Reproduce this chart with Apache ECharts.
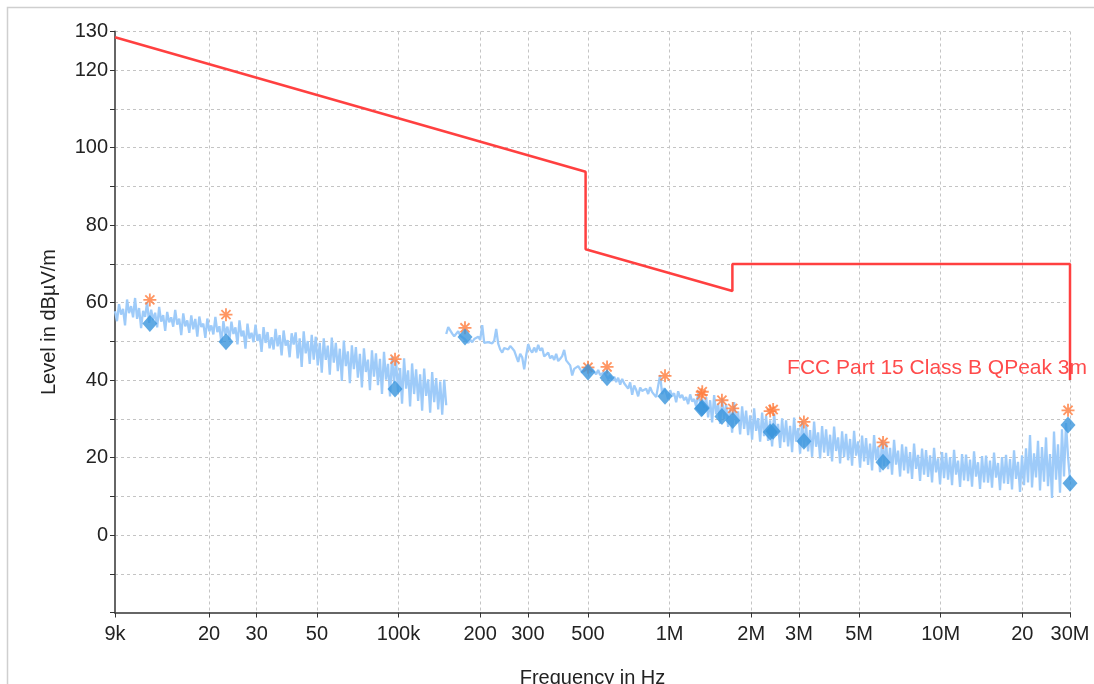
<!DOCTYPE html>
<html>
<head>
<meta charset="utf-8">
<script src="https://cdn.jsdelivr.net/npm/echarts@6/dist/echarts.min.js"></script>
<style>
  html, body { margin: 0; padding: 0; background: #fff; }
  #chart { width: 1094px; height: 684px; }
</style>
</head>
<body>
<div id="chart"></div>
<script>
// x axis ticks (Hz) and their printed labels
const freqTicks = [9e3, 2e4, 3e4, 5e4, 1e5, 2e5, 3e5, 5e5, 1e6, 2e6, 3e6, 5e6, 1e7, 2e7, 3e7]
const freqTickLabels = ['9k', '20', '30', '50', '100k', '200', '300', '500', '1M', '2M', '3M', '5M', '10M', '20', '30M']
// y labels that are printed (other 10 dB ticks stay blank)
const levelLabels = [130, 120, 100, 80, 60, 40, 20, 0]

// FCC Part 15 Class B QPeak 3m limit
const limitFreq = [9e3, 4.9e5, 4.9e5, 1.705e6, 1.705e6, 3e7, 3e7]
const limitLevel = [128.5, 93.8, 73.8, 63.0, 70.0, 70.0, 40.0]

// sweep 1 (loop): 9 kHz .. 150 kHz, log spaced points
const sweep1Start = 9e3
const sweep1Stop = 1.5e5
const sweep1Level = [
  57.8, 55.2, 59.6, 56.9, 58.4, 54.1, 60.8, 57.3, 59.1, 56.2,
  61.2, 55.8, 58.6, 53.4, 57.9, 56.3, 60.1, 54.8, 58.2, 55.5,
  57.4, 53.6, 58.9, 55.1, 56.8, 52.7, 57.6, 54.9, 56.2, 53.8,
  58.1, 54.3, 55.9, 51.6, 57.2, 53.9, 55.4, 52.2, 56.7, 53.1,
  55.8, 51.2, 56.4, 53.7, 54.6, 50.9, 55.9, 52.6, 54.1, 51.8,
  56.3, 52.4, 53.9, 49.6, 55.2, 51.7, 53.8, 50.4, 55.1, 51.9,
  53.6, 49.2, 55.4, 51.3, 52.8, 48.1, 54.6, 50.7, 52.2, 49.8,
  54.3, 50.1, 51.9, 47.3, 53.7, 49.6, 52.4, 48.2, 51.1, 47.9,
  53.2, 48.7, 51.6, 46.4, 52.8, 48.9, 50.3, 45.9, 52.1, 49.2,
  52.3, 45.6, 50.8, 43.4, 52.6, 46.9, 50.1, 44.2, 51.7, 45.3,
  51.2, 43.8, 49.6, 41.9, 50.8, 45.2, 48.9, 41.4, 51.0, 44.5,
  49.6, 42.3, 48.1, 39.8, 50.2, 43.6, 47.4, 39.2, 49.0, 42.8,
  48.5, 40.6, 46.8, 38.1, 48.2, 42.1, 45.3, 37.4, 47.7, 40.9,
  46.9, 38.7, 45.5, 36.4, 47.3, 40.1, 44.2, 35.8, 46.1, 39.2,
  45.2, 36.9, 43.1, 33.9, 45.6, 37.8, 42.5, 33.2, 44.3, 36.4,
  42.8, 34.6, 41.5, 32.1, 43.0, 35.9, 40.2, 31.6, 42.1, 34.3,
  40.5, 32.4, 39.6, 31.1, 40.1, 33.5
]

// sweep 2 (bicon): 150 kHz .. 30 MHz, log spaced points
const sweep2Start = 1.5e5
const sweep2Stop = 3e7
const sweep2Level = [
  51.9, 53.7, 53.2, 52.0, 51.3, 51.8, 52.6, 51.5, 51.0, 50.7,
  50.2, 49.6, 50.4, 49.8, 50.6, 50.1, 51.2, 50.4, 54.2, 49.6,
  50.1, 49.8, 50.3, 49.5, 50.2, 53.2, 49.4, 47.9, 47.1, 48.3,
  48.6, 47.9, 48.8, 48.2, 47.6, 47.9, 44.7, 46.8, 45.9, 42.8,
  46.4, 49.3, 47.8, 47.1, 48.4, 47.2, 49.1, 47.6, 48.3, 46.1,
  46.0, 47.1, 45.6, 46.3, 45.2, 46.8, 44.9, 45.5, 46.2, 47.8,
  45.1, 44.6, 43.8, 41.2, 42.9, 42.5, 43.6, 42.8, 41.9, 43.1,
  42.4, 43.5, 41.8, 42.9, 42.2, 41.5, 42.6, 41.3, 40.8, 42.1,
  41.6, 40.2, 41.3, 39.8, 40.9, 39.5, 40.6, 38.8, 40.3, 39.2,
  38.9, 37.8, 39.4, 36.2, 38.6, 37.5, 35.8, 38.1, 37.2, 36.9,
  37.8, 36.4, 38.2, 36.9, 37.3, 35.6, 38.5, 41.3, 36.4, 37.9,
  36.8, 35.1, 37.4, 35.9, 36.6, 34.3, 37.1, 35.4, 36.2, 34.8,
  35.6, 33.8, 36.3, 34.5, 35.1, 33.2, 36.7, 33.9, 35.2, 32.8,
  35.6, 30.4, 34.8, 29.1, 36.1, 31.2, 33.9, 28.7, 35.2, 30.0,
  33.8, 27.9, 32.6, 26.4, 34.3, 28.7, 31.9, 26.0, 33.2, 27.4,
  32.1, 25.8, 30.9, 24.6, 32.7, 26.9, 30.2, 24.1, 31.6, 25.5,
  30.8, 24.3, 29.6, 22.9, 31.4, 25.6, 28.7, 22.5, 30.1, 24.0,
  29.6, 22.9, 28.2, 21.4, 30.3, 24.1, 27.6, 21.0, 29.4, 22.6,
  28.4, 21.6, 27.1, 20.2, 29.3, 22.8, 26.5, 19.8, 28.1, 21.3,
  27.3, 20.4, 25.9, 19.0, 28.0, 21.7, 25.2, 18.5, 26.8, 20.1,
  26.1, 19.3, 24.8, 17.9, 26.9, 20.5, 24.2, 17.4, 25.7, 19.0,
  25.0, 18.1, 23.6, 16.7, 25.8, 19.3, 22.9, 16.2, 24.6, 17.8,
  23.9, 17.0, 22.5, 15.6, 24.6, 18.2, 21.8, 15.1, 23.4, 16.7,
  22.8, 15.9, 21.4, 14.5, 23.6, 17.1, 20.7, 14.0, 22.3, 15.6,
  21.9, 15.0, 20.6, 13.6, 22.5, 16.2, 19.8, 13.1, 21.4, 14.7,
  21.2, 14.3, 20.1, 12.9, 22.0, 15.6, 19.2, 12.4, 20.9, 14.1,
  20.8, 13.9, 19.5, 12.5, 21.6, 15.1, 18.8, 11.9, 20.4, 13.6,
  20.5, 13.5, 19.2, 12.2, 21.3, 14.8, 18.6, 11.6, 20.1, 13.3,
  20.7, 13.2, 19.6, 11.8, 21.9, 14.5, 18.9, 11.1, 20.6, 12.9,
  22.4, 13.6, 25.8, 12.3, 21.1, 14.9, 24.3, 11.5, 22.7, 13.8,
  25.2, 12.6, 20.9, 9.6, 26.7, 14.3, 23.4, 10.9, 27.3, 15.1,
  28.9, 20.3, 14.2
]

// peak detector finals (asterisks)
const peakFreq = [1.21e4, 2.31e4, 9.71e4, 1.759e5, 5.0e5, 5.88e5, 9.62e5, 1.31e6, 1.32e6, 1.56e6, 1.71e6, 2.35e6, 2.41e6, 3.13e6, 6.13e6, 2.95e7]
const peakLevel = [60.7, 56.9, 45.4, 53.5, 43.3, 43.4, 41.1, 36.2, 37.0, 34.8, 32.7, 32.0, 32.4, 29.2, 23.9, 32.2]

// quasi-peak finals (diamonds)
const qpFreq = [1.21e4, 2.31e4, 9.71e4, 1.759e5, 5.0e5, 5.88e5, 9.62e5, 1.31e6, 1.32e6, 1.56e6, 1.71e6, 2.35e6, 2.41e6, 3.13e6, 6.13e6, 2.95e7, 3.0e7]
const qpLevel = [54.6, 49.9, 37.7, 51.1, 42.1, 40.6, 35.8, 32.6, 32.8, 30.6, 29.6, 26.6, 26.8, 24.2, 18.8, 28.4, 13.4]

const FONT = 'Arial, "Liberation Sans", sans-serif'

function sweep(start, stop, levels) {
  const n = levels.length
  return levels.map((v, i) => [start * Math.pow(stop / start, i / (n - 1)), v])
}
function pairs(xs, ys) {
  return xs.map((x, i) => [x, ys[i]])
}

// 8-arm asterisk made of thin bars
const asterisk = 'path://M0 4.3H10V5.7H0Z M4.3 0H5.7V10H4.3Z M1 2L2 1L9 8L8 9Z M8 1L9 2L2 9L1 8Z'

const chart = echarts.init(document.getElementById('chart'))
chart.setOption({
  animation: false,
  backgroundColor: '#fff',
  grid: { left: 115, right: 24, top: 31.5, bottom: 71.5, containLabel: false, outerBoundsMode: 'none' },
  xAxis: {
    type: 'log',
    logBase: 10,
    min: 9e3,
    max: 3e7,
    name: 'Frequency in Hz',
    nameLocation: 'middle',
    nameGap: 56,
    nameTextStyle: { fontSize: 20, color: '#222', fontFamily: FONT },
    axisLine: { onZero: false, lineStyle: { color: '#666', width: 2 } },
    axisTick: { customValues: freqTicks, length: 5, lineStyle: { color: '#333' } },
    axisLabel: {
      customValues: freqTicks,
      fontSize: 20,
      color: '#222',
      fontFamily: FONT,
      margin: 12,
      formatter: v => {
        const i = freqTicks.findIndex(t => Math.abs(t - v) / t < 1e-4)
        return i < 0 ? '' : freqTickLabels[i]
      }
    },
    splitLine: { show: true, lineStyle: { color: '#c4c4c4', type: [3, 3] } }
  },
  yAxis: {
    type: 'value',
    min: -20,
    max: 130,
    interval: 10,
    name: 'Level in dBµV/m',
    nameLocation: 'middle',
    nameGap: 56,
    nameTextStyle: { fontSize: 20, color: '#222', fontFamily: FONT },
    axisLine: { show: true, onZero: false, lineStyle: { color: '#666', width: 2 } },
    axisTick: { show: true, length: 5, lineStyle: { color: '#333' } },
    axisLabel: {
      fontSize: 20,
      color: '#222',
      fontFamily: FONT,
      margin: 7,
      formatter: v => (levelLabels.indexOf(v) >= 0 ? String(v) : '')
    },
    splitLine: { show: true, lineStyle: { color: '#c4c4c4', type: [3, 3] } }
  },
  graphic: [
    {
      type: 'rect',
      left: 5, top: 5,
      shape: { width: 1110, height: 700 },
      style: { fill: 'none', stroke: '#cfcfcf', lineWidth: 1.5 },
      silent: true,
      z: -10
    },
    {
      type: 'text',
      right: 7,
      top: 358,
      style: { text: 'FCC Part 15 Class B QPeak 3m', fill: '#ff4b4b', font: '21px ' + FONT },
      z: 10
    }
  ],
  series: [
    {
      name: 'sweep1',
      type: 'line',
      data: sweep(sweep1Start, sweep1Stop, sweep1Level),
      showSymbol: false,
      sampling: false,
      lineStyle: { color: '#9ecbf9', width: 2.3 },
      z: 2
    },
    {
      name: 'sweep2',
      type: 'line',
      data: sweep(sweep2Start, sweep2Stop, sweep2Level),
      showSymbol: false,
      sampling: false,
      lineStyle: { color: '#9ecbf9', width: 2.3 },
      z: 2
    },
    {
      name: 'limit',
      type: 'line',
      data: pairs(limitFreq, limitLevel),
      showSymbol: false,
      clip: false,
      lineStyle: { color: '#ff4040', width: 2.5 },
      z: 3
    },
    {
      name: 'peak',
      type: 'scatter',
      data: pairs(peakFreq, peakLevel),
      symbol: asterisk,
      symbolSize: 13,
      itemStyle: { color: '#ff7c3c' },
      z: 4
    },
    {
      name: 'qp',
      type: 'scatter',
      data: pairs(qpFreq, qpLevel),
      symbol: 'diamond',
      symbolSize: [15, 17],
      itemStyle: { color: '#3a95dc' },
      z: 5
    }
  ]
})
</script>
</body>
</html>
